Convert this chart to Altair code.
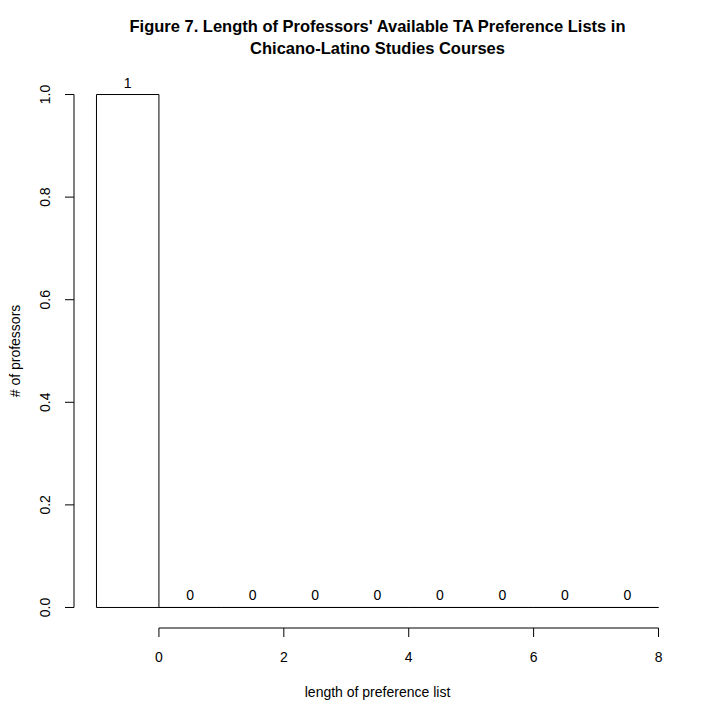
import altair as alt
import pandas as pd

bin_starts = [-1, 0, 1, 2, 3, 4, 5, 6, 7]
bin_ends = [0, 1, 2, 3, 4, 5, 6, 7, 8]
counts = [1, 0, 0, 0, 0, 0, 0, 0, 0]
x_ticks = [0, 2, 4, 6, 8]
y_ticks = [0.0, 0.2, 0.4, 0.6, 0.8, 1.0]

title_lines = ["Figure 7. Length of Professors' Available TA Preference Lists in",
               "Chicano-Latino Studies Courses"]
x_title = "length of preference list"
y_title = "# of professors"

FONT = "Liberation Sans"
FS = 14
W, H = 607, 554

bars = pd.DataFrame({"start": bin_starts, "end": bin_ends, "count": counts})
bars["mid"] = (bars["start"] + bars["end"]) / 2
xt = pd.DataFrame({"v": x_ticks})
yt = pd.DataFrame({"v": y_ticks})

xs = alt.Scale(domain=[-1.36, 8.36], nice=False, zero=False)
ys = alt.Scale(domain=[-0.04, 1.04], nice=False, zero=False)

rect = alt.Chart(bars).mark_rect(fill=None, stroke="black", strokeWidth=1).encode(
    x=alt.X("start:Q", scale=xs, axis=None),
    x2="end:Q",
    y=alt.Y("count:Q", scale=ys, axis=None),
    y2=alt.Y2(datum=0),
)

lbl = alt.Chart(bars).mark_text(font=FONT, fontSize=FS, dy=-11, color="black").encode(
    x=alt.X("mid:Q", scale=xs, axis=None),
    y=alt.Y("count:Q", scale=ys, axis=None),
    text="count:Q",
)

# y axis
y_line = alt.Chart(yt).mark_rule(color="black").encode(
    x=alt.value(0),
    y=alt.Y("min(v):Q", scale=ys, axis=None),
    y2="max(v):Q",
)
y_tick = alt.Chart(yt).mark_rule(color="black").encode(
    x=alt.value(0), x2=alt.value(-9),
    y=alt.Y("v:Q", scale=ys, axis=None),
)
y_lab = alt.Chart(yt).mark_text(font=FONT, fontSize=FS, angle=270, color="black").encode(
    x=alt.value(-28),
    y=alt.Y("v:Q", scale=ys, axis=None),
    text=alt.Text("v:Q", format=".1f"),
)

# x axis
x_line = alt.Chart(xt).mark_rule(color="black").encode(
    y=alt.value(H),
    x=alt.X("min(v):Q", scale=xs, axis=None),
    x2="max(v):Q",
)
x_tick = alt.Chart(xt).mark_rule(color="black").encode(
    y=alt.value(H), y2=alt.value(H + 9),
    x=alt.X("v:Q", scale=xs, axis=None),
)
x_lab = alt.Chart(xt).mark_text(font=FONT, fontSize=FS, color="black").encode(
    y=alt.value(H + 30),
    x=alt.X("v:Q", scale=xs, axis=None),
    text="v:Q",
)

x_ttl = alt.Chart(pd.DataFrame({"t": [x_title]})).mark_text(font=FONT, fontSize=FS, color="black").encode(
    x=alt.value(W / 2), y=alt.value(H + 65), text="t:N")
y_ttl = alt.Chart(pd.DataFrame({"t": [y_title]})).mark_text(font=FONT, fontSize=FS, angle=270, color="black").encode(
    x=alt.value(-58), y=alt.value(H / 2), text="t:N")

chart = alt.layer(rect, lbl, y_line, y_tick, y_lab, x_line, x_tick, x_lab, x_ttl, y_ttl).properties(
    width=W, height=H,
    title=alt.TitleParams(text=title_lines, font=FONT, fontSize=16.5, fontWeight="bold",
                          anchor="middle", offset=17, lineHeight=22, color="black"),
    autosize=alt.AutoSizeParams(type="none"),
    padding={"left": 66, "top": 66, "right": 31, "bottom": 84},
).configure_view(stroke=None)

chart.save("out.html", embed_options={"renderer": "svg", "actions": False})
